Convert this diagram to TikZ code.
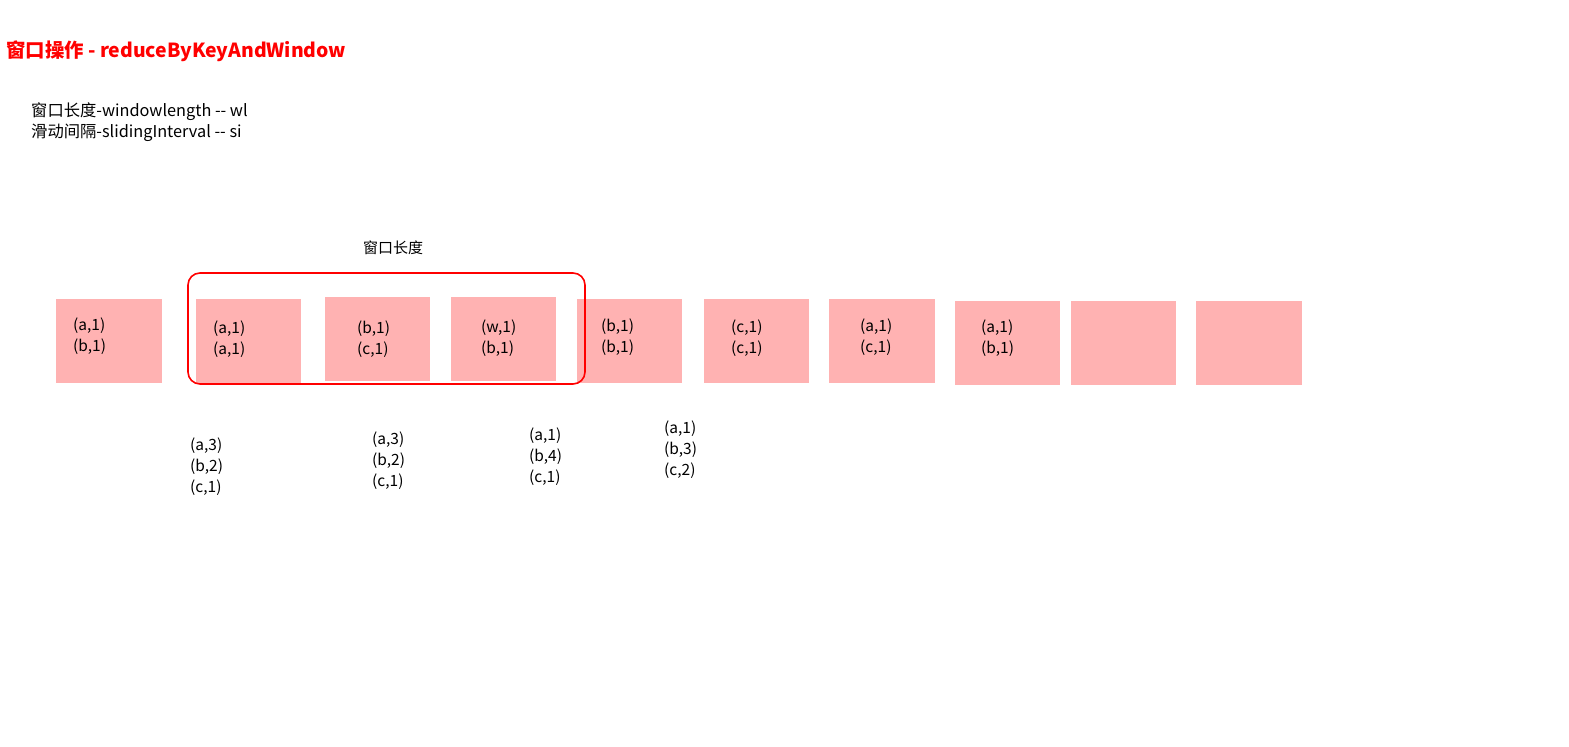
\documentclass[tikz,border=0pt]{standalone}
\usepackage{fontspec}
\setmainfont{Noto Sans CJK SC}
\definecolor{boxpink}{RGB}{255,178,178}
\definecolor{winred}{RGB}{255,0,0}
\begin{document}
\begin{tikzpicture}[x=1pt,y=-1pt,
  cell/.style={fill=boxpink,draw=none},
  txt/.style={anchor=west,inner sep=0pt,align=left,font=\fontsize{15.5}{21}\selectfont},
  res/.style={anchor=west,inner sep=0pt,align=left,font=\fontsize{15.5}{21}\selectfont}]
\useasboundingbox (0,0) rectangle (1569,747);
\fill[white] (0,0) rectangle (1569,747);
% title
\node[anchor=west,inner sep=0pt,text=winred,font=\fontsize{19.4}{23}\selectfont\bfseries] (title) at (6,51) {窗口操作 - reduceByKeyAndWindow};
\node[anchor=west,inner sep=0pt,align=left,font=\fontsize{16.3}{21}\selectfont] (def) at (31,122.5) {窗口长度-windowlength -{}- wl\\滑动间隔-slidingInterval -{}- si};
% boxes
\fill[cell] (56,299) rectangle (162,383);
\fill[cell] (196,299) rectangle (301,383);
\fill[cell] (325,297) rectangle (430,381);
\fill[cell] (451,297) rectangle (556,381);
\fill[cell] (577,299) rectangle (682,383);
\fill[cell] (704,299) rectangle (809,383);
\fill[cell] (829,299) rectangle (935,383);
\fill[cell] (955,301) rectangle (1060,385);
\fill[cell] (1071,301) rectangle (1176,385);
\fill[cell] (1196,301) rectangle (1302,385);
% window
\draw[winred,line width=1.6pt,rounded corners=12pt] (188,273) rectangle (585,384);
\node[inner sep=0pt,font=\fontsize{15}{18}\selectfont] (wlabel) at (393,248) {窗口长度};
% box texts
\node[txt] (t1) at (73,336.5) {(a,1)\\(b,1)};
\node[txt] (t2) at (213,339) {(a,1)\\(a,1)};
\node[txt] (t3) at (357,339) {(b,1)\\(c,1)};
\node[txt] (t4) at (481,338) {(w,1)\\(b,1)};
\node[txt] (t5) at (601,337.5) {(b,1)\\(b,1)};
\node[txt] (t6) at (731,338.5) {(c,1)\\(c,1)};
\node[txt] (t7) at (860,337.5) {(a,1)\\(c,1)};
\node[txt] (t8) at (981,338.5) {(a,1)\\(b,1)};
% results
\node[res] (r1) at (190,467) {(a,3)\\(b,2)\\(c,1)};
\node[res] (r2) at (372,461) {(a,3)\\(b,2)\\(c,1)};
\node[res] (r3) at (529,457) {(a,1)\\(b,4)\\(c,1)};
\node[res] (r4) at (664,449.5) {(a,1)\\(b,3)\\(c,2)};
\end{tikzpicture}
\end{document}
